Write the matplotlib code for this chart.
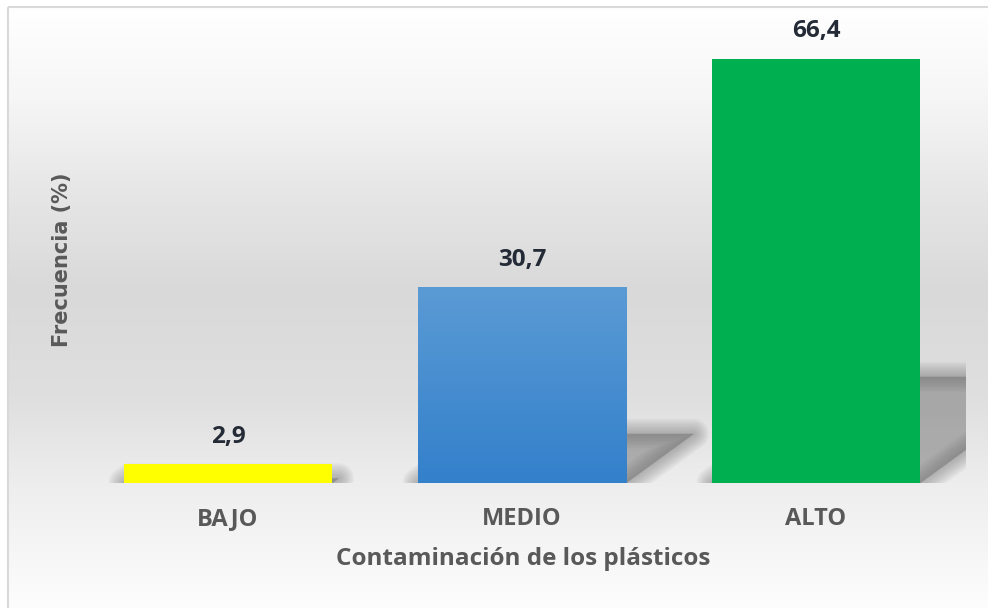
import numpy as np
import matplotlib.pyplot as plt
from matplotlib.colors import LinearSegmentedColormap
from matplotlib.patches import Polygon, Rectangle

# data
categorias = ['BAJO', 'MEDIO', 'ALTO']
frecuencia = [2.9, 30.7, 66.4]
colores = ['#ffff00', '#4a8fd3', '#00b050']

fig = plt.figure(figsize=(9.88, 6.08), dpi=100)

# background with vertical grey gradient and light border
bg = fig.add_axes([0, 0, 1, 1], zorder=-10)
bg_cmap = LinearSegmentedColormap.from_list('bg', [
    (0.0, '#ffffff'), (0.15, '#f6f6f6'), (0.30, '#e7e7e7'), (0.47, '#d9d9d9'),
    (0.65, '#dfdfdf'), (0.80, '#eeeeee'), (1.0, '#fdfdfd')])
grad = np.linspace(0, 1, 256).reshape(-1, 1)
bg.imshow(grad, cmap=bg_cmap, aspect='auto', extent=(8, 988, 608, 7))
bg.add_patch(Rectangle((8, 7), 990, 610, fill=False, edgecolor='#d9d9d9', lw=1.5))
bg.set_xlim(0, 988)
bg.set_ylim(608, 0)
bg.axis('off')

ax = fig.add_axes([81 / 988, 125 / 608, 885 / 988, 473 / 608])
ax.set_facecolor('none')
x = np.arange(len(categorias))
ancho = 0.71
ax.set_xlim(-0.5, 2.51)
ax.set_ylim(0, 74)

# perspective shadows (skewed, 25% height), soft edges by layering
px_x = 885 / (2.51 + 0.5)
px_y = 473 / 74
for xi, v in zip(x, frecuencia):
    h = 0.25 * v
    dx = 1.37 * h * px_y / px_x
    pts = [(xi - ancho / 2, 0), (xi + ancho / 2, 0),
           (xi + ancho / 2 + dx, h), (xi - ancho / 2 + dx, h)]
    for lw in range(22, -1, -2):
        ax.add_patch(Polygon(pts, closed=True, facecolor='#707070', edgecolor='#707070',
                             lw=lw, alpha=0.05, joinstyle='round', zorder=1))

barras = ax.bar(x, frecuencia, width=ancho, color=colores, zorder=3)

# gradient for MEDIO bar
azul = LinearSegmentedColormap.from_list('azul', ['#3380cb', '#5b9bd5'])
b = barras[1]
im = ax.imshow(grad, cmap=azul, aspect='auto', origin='lower', zorder=4,
               extent=(b.get_x(), b.get_x() + b.get_width(), 0, b.get_height()))
im.set_clip_path(b)
ax.set_xlim(-0.5, 2.51)
ax.set_ylim(0, 74)

for xi, v in zip(x, frecuencia):
    ax.annotate(f'{v:.1f}'.replace('.', ','), xy=(xi, v), xytext=(0, 19.5),
                textcoords='offset points', ha='center', va='center',
                fontsize=17.5, fontweight='bold', color='#242b36',
                family='Open Sans', zorder=5)

ax.set_xticks(x, categorias, fontsize=17, fontweight='bold', color='#595959',
              family='Open Sans')
ax.tick_params(axis='x', length=0, pad=17)
ax.set_yticks([])
for s in ax.spines.values():
    s.set_visible(False)
ax.set_xlabel('Contaminación de los plásticos', fontsize=17.5, fontweight='bold',
              color='#595959', family='Open Sans', labelpad=12)

fig.text(62 / 988, 1 - 260 / 608, 'Frecuencia (%)', rotation=90, ha='center', va='center',
         fontsize=15, fontweight='bold', color='#595959', family='DejaVu Sans')

fig.savefig('out.png', dpi=100)
